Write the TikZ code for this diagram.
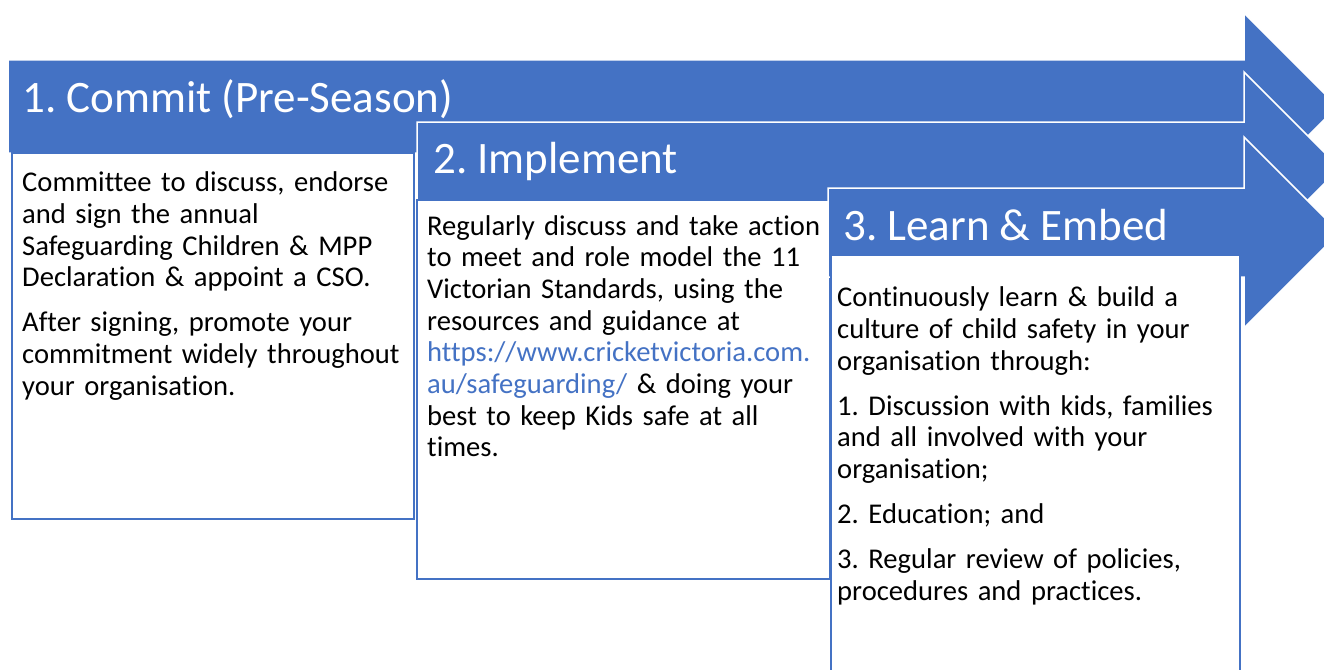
\documentclass[tikz,border=0pt]{standalone}
\usepackage{fontspec}
\setmainfont{Carlito}[Ligatures=NoCommon]
\definecolor{accent}{HTML}{4472C4}
\definecolor{bodytext}{HTML}{000000}
\frenchspacing
\begin{document}
\begin{tikzpicture}[x=1pt,y=-1pt,
  arrowshape/.style={fill=accent, draw=white, line width=1.5pt, line join=miter},
  stepbox/.style={fill=white, draw=accent, line width=2pt},
  heading/.style={anchor=base west, inner sep=0pt, text=white,
    font=\fontsize{45}{50}\selectfont},
  bodybox/.style={anchor=base west, inner sep=0pt, text=bodytext, align=left,
    text width=600pt, font=\fontsize{28.6}{31.7}\selectfont\frenchspacing}]
\useasboundingbox (0,0) rectangle (1324,669);
\clip (0,0) rectangle (1324,669);

% Step 1: arrow and its box
\path[arrowshape] (8,60) -- (1244,60) -- (1244,13) -- (1337.5,106.5)
  -- (1244,200) -- (1244,153) -- (8,153) -- cycle;
\node[heading] (h1) at (22,112) {1. Commit (Pre-Season)};
\path[stepbox] (12,153) rectangle (414,519);
\node[bodybox] (t1) at (22,191.7) {Committee to discuss, endorse\\
and sign the annual\\
Safeguarding Children \& MPP\\
Declaration \& appoint a CSO.\\[13.3pt]
After signing, promote your\\
commitment widely throughout\\
your organisation.};

% Step 2
\path[arrowshape] (417,122) -- (1244,122) -- (1244,72) -- (1340,168)
  -- (1244,264) -- (1244,214) -- (417,214) -- cycle;
\node[heading] (h2) at (433,173) {2. Implement};
\path[stepbox] (417,200) rectangle (830,579);
\node[bodybox] (t2) at (427,235) {Regularly discuss and take action\\
to meet and role model the 11\\
Victorian Standards, using the\\
resources and guidance at\\
{\color{accent}https://www.cricketvictoria.com.}\\
{\color{accent}au/safeguarding/} \& doing your\\
best to keep Kids safe at all\\
times.};

% Step 3
\path[arrowshape] (828,188) -- (1244,188) -- (1244,137) -- (1339.5,232.5)
  -- (1244,328) -- (1244,277) -- (828,277) -- cycle;
\node[heading] (h3) at (843,240) {3. Learn \& Embed};
\path[stepbox] (831,255) rectangle (1240,675);
\node[bodybox] (t3) at (837,306.7) {Continuously learn \& build a\\
culture of child safety in your\\
organisation through:\\[13.3pt]
1. Discussion with kids, families\\
and all involved with your\\
organisation;\\[13.3pt]
2. Education; and\\[13.3pt]
3. Regular review of policies,\\
procedures and practices.};
\end{tikzpicture}
\end{document}
